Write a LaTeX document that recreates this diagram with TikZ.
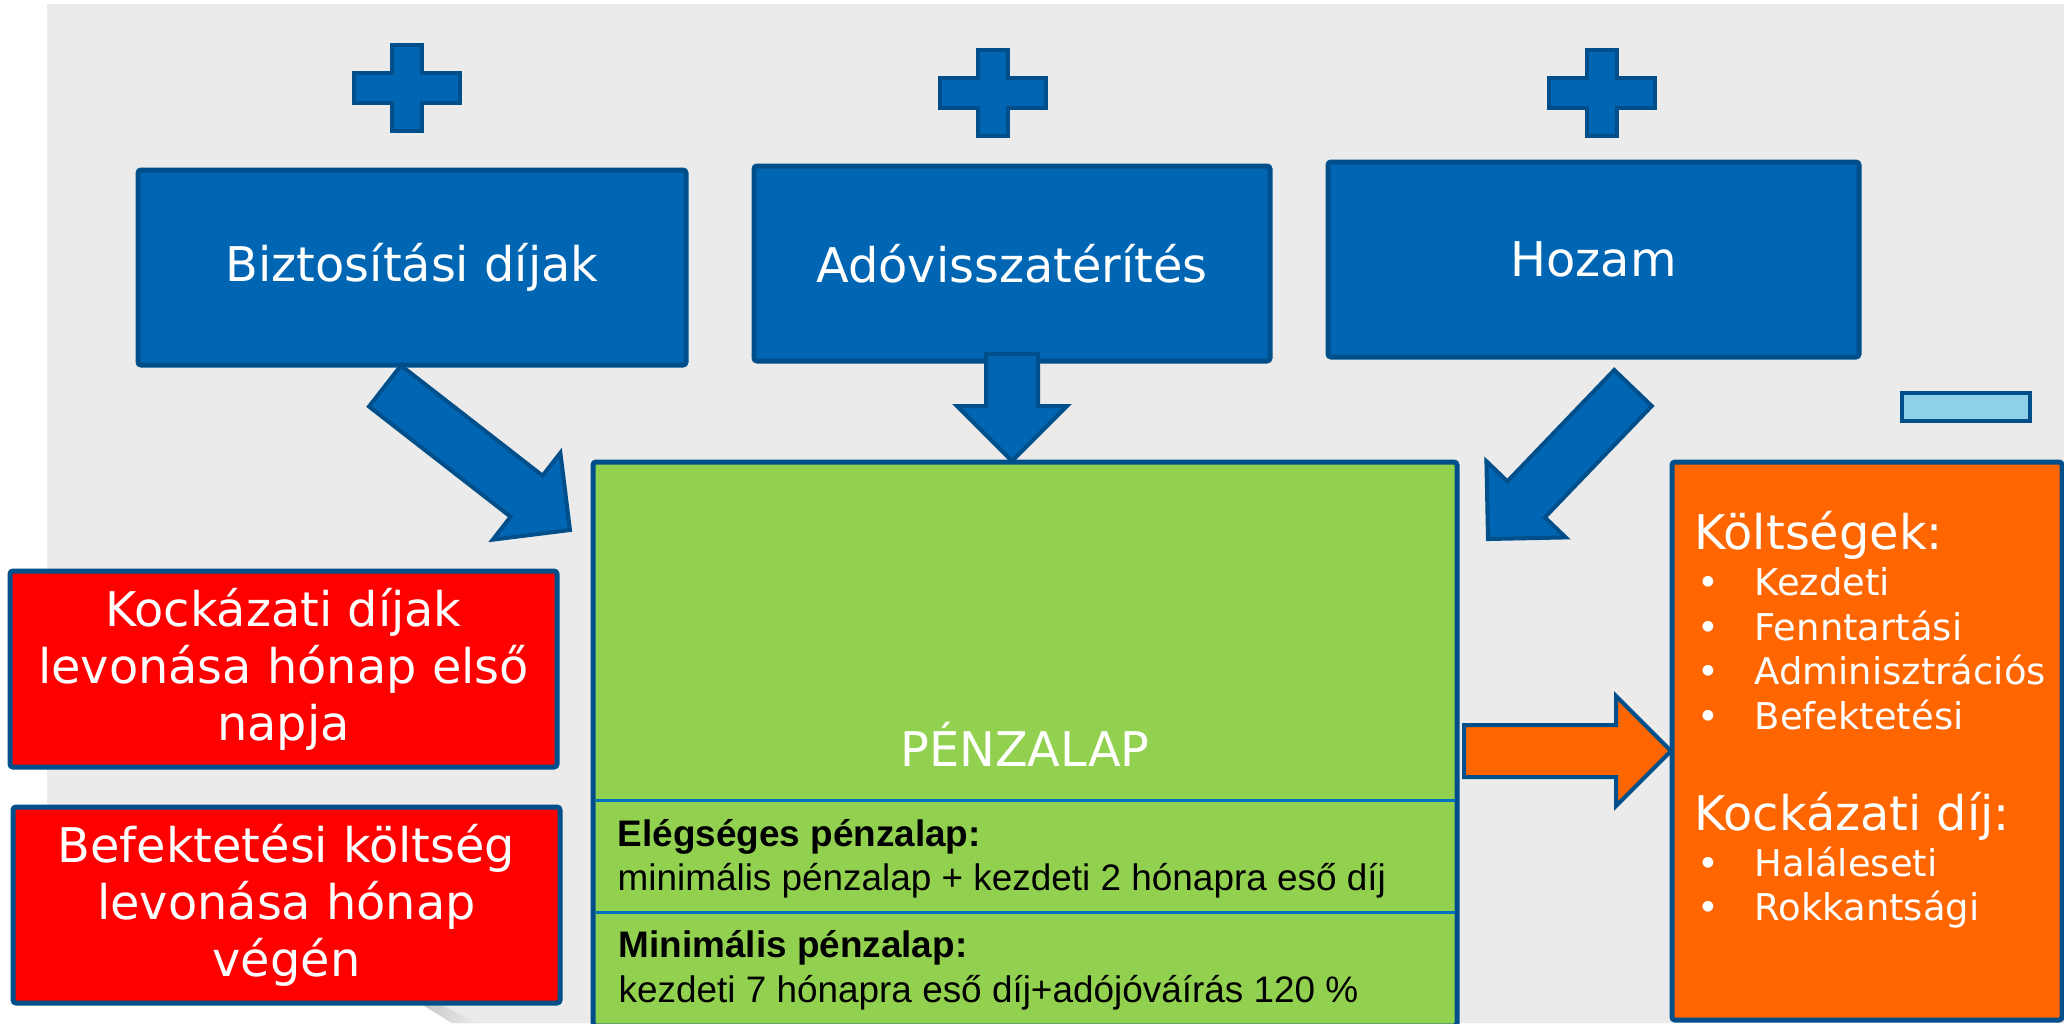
\documentclass[tikz,border=0pt]{standalone}
\usepackage{fontspec}
\setmainfont{DejaVu Sans}
\newfontfamily\arialfont{Liberation Sans}
\usepackage{xcolor}
\usetikzlibrary{
    calc
}
\definecolor{pagebg}{HTML}{EBEBEB}
\definecolor{bluefill}{HTML}{0066B3}
\definecolor{blueedge}{HTML}{004F8A}
\definecolor{fundgreen}{HTML}{92D050}
\definecolor{costorange}{HTML}{FF6600}
\definecolor{deductred}{HTML}{FF0000}
\definecolor{minusblue}{HTML}{8ED0E8}
\definecolor{divblue}{HTML}{0070C0}
\tikzset{
    % Blue source boxes
    source box/.style={
        rectangle,
        rounded corners=0.3mm,
        minimum height=19.5mm,
        inner sep=0pt,
        align=center,
        font=\fontsize{13.6}{16.2}\selectfont,
        text=white,
        draw=blueedge,
        fill=bluefill,
        line width=0.5mm
    },
    % Fund box (green)
    fund box/.style={
        rectangle,
        rounded corners=0.3mm,
        minimum width=86.4mm,
        minimum height=56.4mm,
        draw=blueedge,
        fill=fundgreen,
        line width=0.5mm
    },
    % Cost box (orange)
    cost box/.style={
        rectangle,
        rounded corners=0.3mm,
        minimum width=39mm,
        minimum height=55.8mm,
        draw=blueedge,
        fill=costorange,
        line width=0.5mm
    },
    % Red deduction boxes
    deduct box/.style={
        rectangle,
        rounded corners=0.3mm,
        minimum width=54.7mm,
        minimum height=19.6mm,
        inner sep=0pt,
        align=center,
        font=\fontsize{13.6}{16.2}\selectfont,
        text=white,
        draw=blueedge,
        fill=deductred,
        line width=0.5mm
    },
    % Minus bar
    minus bar/.style={
        rectangle,
        minimum width=12.8mm,
        minimum height=2.8mm,
        inner sep=0pt,
        draw=blueedge,
        fill=minusblue,
        line width=0.45mm
    },
    % Plus sign
    plussign/.pic={
        \draw[draw=blueedge, fill=bluefill, line width=0.45mm]
            (-15,-43) -- (15,-43) -- (15,-15) -- (53,-15) -- (53,15) -- (15,15)
            -- (15,43) -- (-15,43) -- (-15,15) -- (-53,15) -- (-53,-15) -- (-15,-15) -- cycle;
    },
    % Text styles
    heading text/.style={
        anchor=base west,
        inner sep=0pt,
        font=\fontsize{13.6}{16.2}\selectfont,
        text=white
    },
    item text/.style={
        anchor=base west,
        inner sep=0pt,
        font=\fontsize{10.5}{12.7}\selectfont,
        text=white
    },
    fund text/.style={
        anchor=base west,
        inner sep=0pt,
        font=\arialfont\fontsize{10.5}{12.5}\selectfont,
        text=black
    },
    fund title/.style={
        fund text,
        font=\arialfont\bfseries\fontsize{10.5}{12.5}\selectfont
    },
    divider/.style={
        draw=divblue,
        line width=0.3mm
    },
    % Block arrow styles
    blue arrow/.style={
        draw=blueedge,
        fill=bluefill,
        line width=0.4mm
    },
    orange arrow/.style={
        draw=blueedge,
        fill=costorange,
        line width=0.4mm
    }
}
% Block arrow from #2 to #3
\newcommand{\blockarrow}[3]{%
    \coordinate (ba-head) at ($(#3)!5.5mm!(#2)$);
    \draw[#1] ($(#2)!2.6mm!90:(#3)$) -- ($(ba-head)!2.6mm!90:(#3)$)
        -- ($(ba-head)!5.5mm!90:(#3)$) -- (#3)
        -- ($(ba-head)!5.5mm!-90:(#3)$) -- ($(ba-head)!2.6mm!-90:(#3)$)
        -- ($(#2)!2.6mm!-90:(#3)$) -- cycle;
}

\begin{document}
\begin{tikzpicture}[x=0.1mm, y=-0.1mm]

    \useasboundingbox (0,0) rectangle (2064,1023);
    \clip (0,0) rectangle (2064,1023);

    % Page background
    \fill[pagebg] (47,4) -- (2064,4) -- (2064,1023) -- (452,1023) -- (418,1002) -- (47,1002) -- cycle;
    \shade[left color=gray!45, right color=pagebg] (418,1002) -- (452,1023) -- (478,1023) -- (432,1000) -- cycle;

    % Plus signs
    \pic at (407,88) {plussign};
    \pic at (993,93) {plussign};
    \pic at (1602,93) {plussign};

    % Sources
    \node[source box, minimum width=54.8mm] (bizt) at (412,267.5) {Biztosítási díjak};
    \node[source box, minimum width=51.6mm] (ado) at (1012,263.5) {Adóvisszatérítés};
    \node[source box, minimum width=53.1mm] (hozam) at (1593.5,259.5) {Hozam};

    % Minus sign
    \node[minus bar] (minus) at (1966,407) {};

    % Fund
    \node[fund box] (penz) at (1025,744) {};
    \node[heading text, anchor=base] (penz-title) at (1025,766) {PÉNZALAP};
    \draw[divider] (596,800) -- (1455,800);
    \draw[divider] (596,912) -- (1455,912);
    \node[fund title] (elegs-title) at (617,846) {Elégséges pénzalap:};
    \node[fund text] (elegs-text) at (617,890) {minimális pénzalap + kezdeti 2 hónapra eső díj};
    \node[fund title] (min-title) at (618,957) {Minimális pénzalap:};
    \node[fund text] (min-text) at (618,1002) {kezdeti 7 hónapra eső díj+adójóváírás 120 \%};

    % Costs
    \node[cost box] (kolts) at (1867,741) {};
    \node[heading text] (kolts-title) at (1694,549) {Költségek:};
    \node[item text] (kolts-a) at (1697,595) {\makebox[5.7mm][l]{•}Kezdeti};
    \node[item text] (kolts-b) at (1697,640) {\makebox[5.7mm][l]{•}Fenntartási};
    \node[item text] (kolts-c) at (1697,684) {\makebox[5.7mm][l]{•}Adminisztrációs};
    \node[item text] (kolts-d) at (1697,729) {\makebox[5.7mm][l]{•}Befektetési};
    \node[heading text] (kock-title) at (1694,830) {Kockázati díj:};
    \node[item text] (kock-a) at (1697,876) {\makebox[5.7mm][l]{•}Haláleseti};
    \node[item text] (kock-b) at (1697,920) {\makebox[5.7mm][l]{•}Rokkantsági};

    % Deductions
    \node[deduct box] (kock-levon) at (283.5,669) {Kockázati díjak\\levonása hónap első\\napja};
    \node[deduct box] (bef-levon) at (286.5,905) {Befektetési költség\\levonása hónap\\végén};

    % Arrows
    \coordinate (bizt-out) at (385,386);
    \coordinate (penz-in1) at (570,530);
    \coordinate (ado-out) at (1012,354);
    \coordinate (penz-in2) at (1012,461);
    \coordinate (hozam-out) at (1633,388);
    \coordinate (penz-in3) at (1488,539);
    \coordinate (penz-out) at (1464,751);
    \coordinate (kolts-in) at (1671,751);

    \blockarrow{blue arrow}{bizt-out}{penz-in1}
    \blockarrow{blue arrow}{ado-out}{penz-in2}
    \blockarrow{blue arrow}{hozam-out}{penz-in3}
    \blockarrow{orange arrow}{penz-out}{kolts-in}

\end{tikzpicture}
\end{document}
